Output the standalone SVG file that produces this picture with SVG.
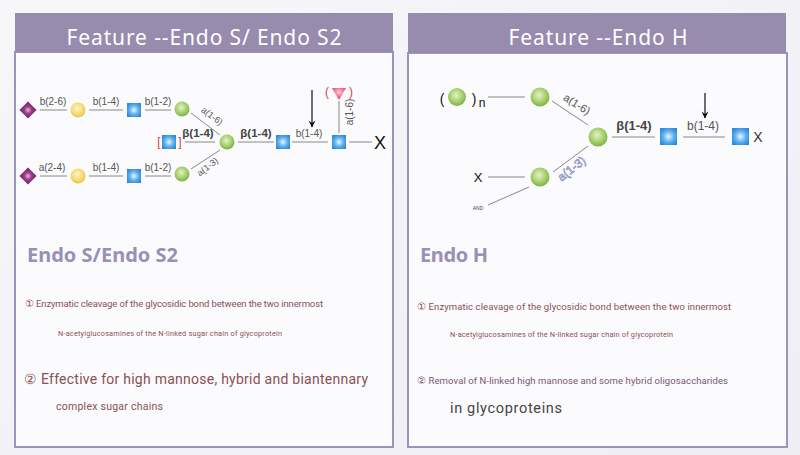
<svg xmlns="http://www.w3.org/2000/svg" width="800" height="455" viewBox="0 0 800 455">
<defs>
<linearGradient id="bg" x1="0" y1="0" x2="1" y2="1">
<stop offset="0" stop-color="#f7f7fa"/><stop offset="1" stop-color="#eeeef3"/>
</linearGradient>
<radialGradient id="gBlue" cx="0.5" cy="0.5" r="0.6">
<stop offset="0" stop-color="#e8f6ff"/><stop offset="0.55" stop-color="#5cb0ee"/><stop offset="1" stop-color="#2f86d6"/>
</radialGradient>
<radialGradient id="gGreen" cx="0.45" cy="0.4" r="0.6">
<stop offset="0" stop-color="#e4f3c8"/><stop offset="0.6" stop-color="#a6d06c"/><stop offset="1" stop-color="#7fb24a"/>
</radialGradient>
<radialGradient id="gYellow" cx="0.45" cy="0.4" r="0.6">
<stop offset="0" stop-color="#fff6c8"/><stop offset="0.6" stop-color="#f5dc78"/><stop offset="1" stop-color="#e8c648"/>
</radialGradient>
<radialGradient id="gPurple" cx="0.5" cy="0.5" r="0.6">
<stop offset="0" stop-color="#e6b6dc"/><stop offset="0.5" stop-color="#9a3f88"/><stop offset="1" stop-color="#7a2268"/>
</radialGradient>
<radialGradient id="gPink" cx="0.5" cy="0.35" r="0.6">
<stop offset="0" stop-color="#ffd0dc"/><stop offset="0.6" stop-color="#f06f90"/><stop offset="1" stop-color="#e04a72"/>
</radialGradient>
<marker id="arr" markerWidth="8" markerHeight="8" refX="7" refY="4" orient="auto" markerUnits="userSpaceOnUse">
<path d="M0.5,0.5 L7.5,4 L0.5,7.5 L3,4 Z" fill="#111"/>
</marker>
<style>
.hdr{fill:#978bae}
.panel{fill:#fbfbfd;stroke:#9d92b9;stroke-width:2}
.htxt{font-family:"Noto Sans","Open Sans",sans-serif;font-size:21px;fill:#ffffff;text-anchor:middle}
.ln{stroke:#888;stroke-width:1;fill:none}
.lbl{font-family:"Liberation Sans",Arial,sans-serif;font-size:10px;fill:#555;text-anchor:middle}
.blbl{font-family:"Liberation Sans",Arial,sans-serif;font-size:11.5px;font-weight:bold;fill:#444;text-anchor:middle}
.red{font-family:"Liberation Sans",Arial,sans-serif;font-size:12px;fill:#e04040;text-anchor:middle}
.x{font-family:"Liberation Sans",Arial,sans-serif;fill:#111;text-anchor:middle}
.title{font-family:"Noto Sans","Open Sans",sans-serif;font-size:20px;font-weight:bold;fill:#9a8fb6}
.t1{font-family:"Roboto","Liberation Sans",sans-serif;font-size:9.5px;fill:#8a4f55}
.t2{font-family:"Roboto","Liberation Sans",sans-serif;font-size:7.3px;fill:#8a4f55}
.t3{font-family:"Roboto","Liberation Sans",sans-serif;font-size:14px;fill:#8a4f55}
.t4{font-family:"Roboto","Liberation Sans",sans-serif;font-size:10.5px;fill:#8a4f55}
.t5{font-family:"Roboto","Liberation Sans",sans-serif;font-size:9.5px;fill:#7a5572}
.t6{font-family:"Roboto","Liberation Sans",sans-serif;font-size:14.5px;fill:#444}
</style>
</defs>
<rect x="0" y="0" width="800" height="455" fill="url(#bg)"/>

<!-- Left panel -->
<g id="panel-left">
<rect class="panel" x="15" y="52" width="378" height="395"/>
<rect class="hdr" x="15" y="13" width="378" height="39"/>
<text class="htxt" x="204" y="45" textLength="275">Feature --Endo S/ Endo S2</text>
</g>
<!-- Right panel -->
<g id="panel-right">
<rect class="panel" x="408" y="53" width="379" height="394"/>
<rect class="hdr" x="408" y="13" width="378" height="40"/>
<text class="htxt" x="598" y="45" textLength="179">Feature --Endo H</text>
</g>

<!-- Connectors -->
<g id="connectors">
<line class="ln" x1="40" y1="110" x2="67" y2="110"/>
<line class="ln" x1="89" y1="110" x2="123" y2="110"/>
<line class="ln" x1="145" y1="110" x2="171" y2="110"/>
<line class="ln" x1="40" y1="176" x2="67" y2="176"/>
<line class="ln" x1="89" y1="176" x2="123" y2="176"/>
<line class="ln" x1="145" y1="176" x2="171" y2="176"/>
<line class="ln" x1="191" y1="113" x2="220" y2="135"/>
<line class="ln" x1="191" y1="169" x2="220" y2="150"/>
<line class="ln" x1="185" y1="142" x2="215" y2="142"/>
<line class="ln" x1="238" y1="142" x2="274" y2="142"/>
<line class="ln" x1="292" y1="142" x2="328" y2="142"/>
<line class="ln" x1="339" y1="101" x2="339" y2="133"/>
<line class="ln" x1="349" y1="142" x2="372" y2="142"/>
<line x1="312" y1="90" x2="312" y2="127" stroke="#111" stroke-width="1.2" marker-end="url(#arr)"/>

<line class="ln" x1="488" y1="97" x2="525" y2="97"/>
<line class="ln" x1="552" y1="101" x2="588" y2="125"/>
<line class="ln" x1="488" y1="177" x2="525" y2="177"/>
<line class="ln" x1="553" y1="172" x2="588" y2="146"/>
<line class="ln" x1="488" y1="205" x2="529" y2="187"/>
<line class="ln" x1="612" y1="137" x2="655" y2="137"/>
<line class="ln" x1="683" y1="137" x2="725" y2="137"/>
<line x1="705" y1="93" x2="705" y2="118" stroke="#111" stroke-width="1.2" marker-end="url(#arr)"/>
</g>

<!-- Left glycan labels -->
<g id="left-labels">
<text class="lbl" x="53" y="105">b(2-6)</text>
<text class="lbl" x="106" y="105">b(1-4)</text>
<text class="lbl" x="158" y="105">b(1-2)</text>
<text class="lbl" x="52" y="171">a(2-4)</text>
<text class="lbl" x="106" y="171">b(1-4)</text>
<text class="lbl" x="158" y="171">b(1-2)</text>
<text class="lbl" x="212" y="119" transform="rotate(37 212 116)" style="font-size:9px">a(1-6)</text>
<text class="lbl" x="207" y="170" transform="rotate(-37 207 166)" style="font-size:9px">a(1-3)</text>
<text class="blbl" x="198" y="137">β(1-4)</text>
<text class="blbl" x="256" y="137">β(1-4)</text>
<text class="lbl" x="309" y="137">b(1-4)</text>
<text class="lbl" x="350" y="115" transform="rotate(-90 350 112)">a(1-6)</text>
<text class="red" x="159" y="146">[</text>
<text class="red" x="180" y="146">]</text>
<text class="red" x="327" y="96">(</text>
<text class="red" x="351" y="96">)</text>
<text class="x" x="380" y="149" style="font-size:18px">X</text>
</g>

<!-- Left glycan nodes -->
<g id="l-sia1"><rect x="22" y="104" width="12" height="12" fill="url(#gPurple)" transform="rotate(45 28 110)"/></g>
<g id="l-gal1"><circle cx="78" cy="110" r="7.5" fill="url(#gYellow)"/></g>
<g id="l-glcnac1"><rect x="127" y="103" width="14" height="14" fill="url(#gBlue)"/></g>
<g id="l-man1"><circle cx="182" cy="109" r="7.5" fill="url(#gGreen)"/></g>
<g id="l-sia2"><rect x="22" y="170" width="12" height="12" fill="url(#gPurple)" transform="rotate(45 28 176)"/></g>
<g id="l-gal2"><circle cx="78" cy="176" r="7.5" fill="url(#gYellow)"/></g>
<g id="l-glcnac2"><rect x="127" y="169" width="14" height="14" fill="url(#gBlue)"/></g>
<g id="l-man2"><circle cx="182" cy="174" r="7.5" fill="url(#gGreen)"/></g>
<g id="l-bisect"><rect x="162" y="135" width="14" height="14" fill="url(#gBlue)"/></g>
<g id="l-core-man"><circle cx="227" cy="142" r="7.5" fill="url(#gGreen)"/></g>
<g id="l-glcnac3"><rect x="276" y="135" width="14" height="14" fill="url(#gBlue)"/></g>
<g id="l-glcnac4"><rect x="332" y="135" width="14" height="14" fill="url(#gBlue)"/></g>
<g id="l-fuc"><polygon points="332,88 346,88 339,100" fill="url(#gPink)"/></g>

<!-- Right glycan labels -->
<g id="right-labels">
<text class="x" x="442" y="104" style="font-size:14px">(</text>
<text class="x" x="474" y="104" style="font-size:14px">)</text>
<text class="x" x="482" y="107" style="font-size:12px">n</text>
<text class="lbl" x="577" y="108" transform="rotate(32 577 104)" style="font-size:11px">a(1-6)</text>
<text x="571" y="173" transform="rotate(-38 571 168)" style="font-family:'Liberation Sans',Arial,sans-serif;font-size:12px;fill:#ffffff;stroke:#7a86b8;stroke-width:0.6;text-anchor:middle">a(1-3)</text>
<text class="x" x="478" y="182" style="font-size:13px">X</text>
<text class="x" x="478" y="210" style="font-size:5px;fill:#444">AND</text>
<text class="blbl" x="634" y="130" style="font-size:13px">β(1-4)</text>
<text class="lbl" x="703" y="130" style="font-size:12px">b(1-4)</text>
<text class="x" x="758" y="142" style="font-size:14px;fill:#333">X</text>
</g>

<!-- Right glycan nodes -->
<g id="r-man-n"><circle cx="457" cy="97" r="9" fill="url(#gGreen)"/></g>
<g id="r-man1"><circle cx="540" cy="97" r="9.5" fill="url(#gGreen)"/></g>
<g id="r-man2"><circle cx="540" cy="177" r="9.5" fill="url(#gGreen)"/></g>
<g id="r-core-man"><circle cx="598" cy="137" r="9.5" fill="url(#gGreen)"/></g>
<g id="r-glcnac1"><rect x="660" y="128" width="17" height="17" fill="url(#gBlue)"/></g>
<g id="r-glcnac2"><rect x="732" y="128" width="17" height="17" fill="url(#gBlue)"/></g>

<!-- Left text -->
<g id="left-text">
<text class="title" x="27" y="262" textLength="151">Endo S/Endo S2</text>
<text class="t1" x="25" y="307" textLength="298">① Enzymatic cleavage of the glycosidic bond between the two innermost</text>
<text class="t2" x="58" y="336" textLength="224">N-acetylglucosamines of the N-linked sugar chain of glycoprotein</text>
<text class="t3" x="24" y="384" textLength="344">② Effective for high mannose, hybrid and biantennary</text>
<text class="t4" x="56" y="410" textLength="107">complex sugar chains</text>
</g>
<!-- Right text -->
<g id="right-text">
<text class="title" x="420" y="262" textLength="68">Endo H</text>
<text class="t1" x="417" y="310" textLength="314">① Enzymatic cleavage of the glycosidic bond between the two innermost</text>
<text class="t2" x="450" y="337" textLength="223">N-acetylglucosamines of the N-linked sugar chain of glycoprotein</text>
<text class="t5" x="417" y="384" textLength="311">② Removal of N-linked high mannose and some hybrid oligosaccharides</text>
<text class="t6" x="450" y="413" textLength="112">in glycoproteins</text>
</g>
</svg>
